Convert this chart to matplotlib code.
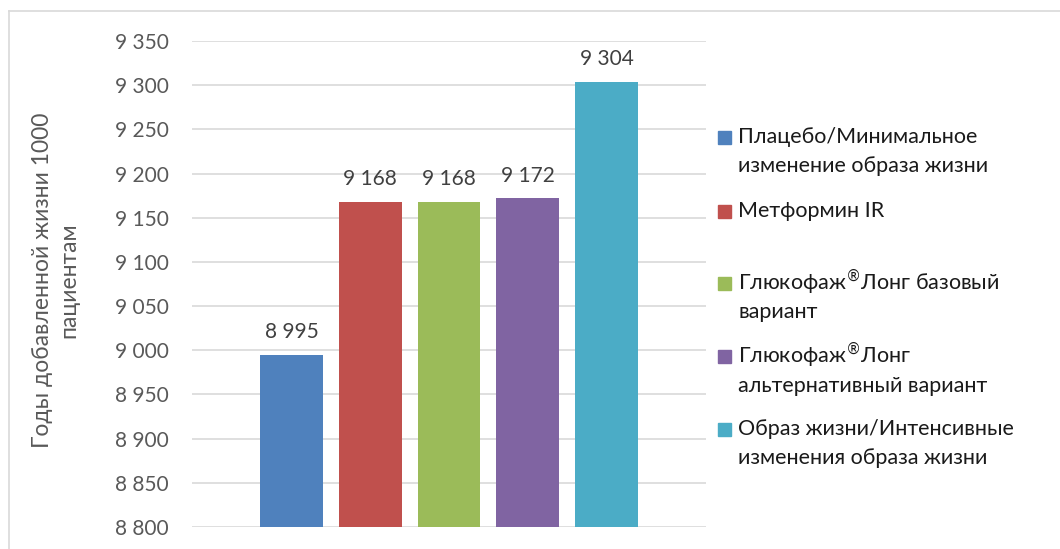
import matplotlib.pyplot as plt
import matplotlib
import numpy as np

categories = ["Плацебо/Минимальное\nизменение образа жизни",
              "Метформин IR",
              "Глюкофаж$^{\\circledR}$Лонг базовый\nвариант",
              "Глюкофаж$^{\\circledR}$Лонг\nальтернативный вариант",
              "Образ жизни/Интенсивные\nизменения образа жизни"]
values = [8995, 9168, 9168, 9172, 9304]
colors = ["#4f81bd", "#c0504d", "#9bbb59", "#8064a2", "#4bacc6"]
yticks = np.arange(8800, 9351, 50)
ylabel = "Годы добавленной жизни 1000\nпациентам"

W, H = 1060, 549
plt.rcParams['font.family'] = ['Lato', 'DejaVu Sans']
plt.rcParams['mathtext.fontset'] = 'dejavusans'
GREY = '#595959'

fig = plt.figure(figsize=(W / 100, H / 100), dpi=100)
ax = fig.add_axes([192 / W, 1 - 527 / H, (706 - 192) / W, (527 - 41) / H])

def fmt(v):
    return f"{v:,}".replace(",", " ")

x = np.arange(len(values))
bars = ax.bar(x, [v - 8800 for v in values], bottom=8800, width=0.8, color=colors, zorder=3)
for xi, v in zip(x, values):
    ax.annotate(fmt(v), (xi, v), xytext=(0, 9), textcoords='offset points',
                ha='center', va='bottom', fontsize=15, color='#404040')

ax.set_xlim(-1.264, len(values) - 1 + 1.264)
ax.set_ylim(8800, 9350)
ax.set_yticks(yticks)
ax.set_yticklabels([fmt(t) for t in yticks])
ax.tick_params(axis='y', length=0, pad=16.5, labelsize=15, labelcolor=GREY)
ax.set_xticks([])
ax.grid(axis='y', color='#d9d9d9', linewidth=1.2, zorder=0)
for s in ax.spines.values():
    s.set_visible(False)

fig.text(56 / W, 1 - 280 / H, ylabel, rotation=90, ha='center', va='center',
         fontsize=16.5, color=GREY, linespacing=1.3)

# legend, drawn by hand so the square sits on the first line like Excel
leg_y = [137, 211, 283, 356, 429]
for lab, c, yy in zip(categories, colors, leg_y):
    fig.patches.append(matplotlib.patches.Rectangle((718 / W, 1 - (yy + 6.5) / H), 13 / W, 13 / H,
                                                    color=c, transform=fig.transFigure))
    for i, line in enumerate(lab.split("\n")):
        fig.text(738 / W, 1 - (yy + 6 + 29.5 * i) / H, line, ha='left', va='baseline',
                 fontsize=15.5, color='#1a1a1a')

# chart frame
fig.add_artist(matplotlib.lines.Line2D([9 / W, 1], [1 - 11 / H, 1 - 11 / H], color='#d9d9d9', lw=1.2))
fig.add_artist(matplotlib.lines.Line2D([9 / W, 9 / W], [0, 1 - 11 / H], color='#d9d9d9', lw=1.2))

fig.savefig("out.png", dpi=100)
